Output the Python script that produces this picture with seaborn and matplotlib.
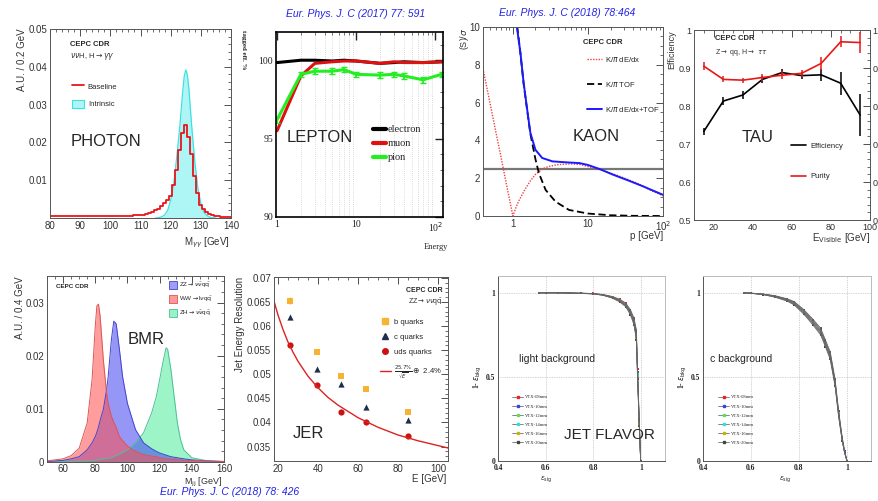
"""CEPC CDR performance overview: eight panels recreated with seaborn/matplotlib."""

import matplotlib
matplotlib.use("Agg")
import numpy as np
import matplotlib.pyplot as plt
import matplotlib.ticker as mticker
from matplotlib.lines import Line2D
from matplotlib.patches import Patch
import seaborn as sns

# ---------------- data ----------------
# PHOTON: diphoton mass (A.U. / 0.2 GeV)
photon_m = list(range(80, 141))
photon_baseline = [
    0.0004, 0.0004, 0.0005, 0.0004, 0.0004, 0.0005, 0.0004, 0.0004, 0.0005, 0.0004,
    0.0005, 0.0004, 0.0005, 0.0005, 0.0004, 0.0005, 0.0004, 0.0005, 0.0005, 0.0005,
    0.0005, 0.0004, 0.0005, 0.0005, 0.0005, 0.0006, 0.0006, 0.0006, 0.0007, 0.0008,
    0.0008, 0.0009, 0.0011, 0.0013, 0.0016, 0.0020, 0.0025, 0.0031, 0.0040, 0.0047,
    0.0058, 0.0088, 0.0127, 0.0180, 0.0224, 0.0245, 0.0215, 0.0170, 0.0110, 0.0065,
    0.0034, 0.0024, 0.0016, 0.0011, 0.0008, 0.0005, 0.0004, 0.0003, 0.0003, 0.0002, 0.0002]
photon_intr_m = [115, 116, 117, 118, 119, 120, 121, 122, 123, 124, 124.5, 125, 125.5,
                 126, 127, 128, 129, 130, 131, 132, 133, 134, 135]
photon_intrinsic = [0.0, 0.0001, 0.0003, 0.0008, 0.0020, 0.0047, 0.0090, 0.0160, 0.0240,
                    0.0335, 0.0375, 0.0392, 0.0380, 0.0345, 0.0240, 0.0150, 0.0080, 0.0038,
                    0.0016, 0.0007, 0.0002, 0.0001, 0.0]

# LEPTON: tagging efficiency (%) vs energy
lep_e = [1, 2, 3, 5, 7, 10, 20, 30, 40, 70, 120]
lep_electron = [99.85, 100.0, 100.0, 99.95, 100.0, 99.95, 99.8, 99.85, 99.9, 99.85, 99.9]
lep_muon = [95.5, 99.0, 99.8, 99.9, 99.95, 99.95, 99.8, 99.9, 99.85, 99.85, 99.9]
lep_pion = [96.2, 99.1, 99.3, 99.3, 99.4, 99.1, 99.05, 99.1, 99.0, 98.75, 99.1]

# KAON: K/pi separation power vs momentum
kaon_dedx_p = [0.4, 0.5, 0.6, 0.7, 0.8, 0.9, 1.0, 1.1, 1.2, 1.4, 1.7, 2.0, 2.5, 3, 4, 6, 8,
               10, 15, 25, 45, 70, 100]
kaon_dedx = [7.8, 5.9, 4.35, 3.05, 1.9, 0.9, 0.0, 0.45, 0.8, 1.3, 1.85, 2.2, 2.5, 2.62, 2.72,
             2.76, 2.72, 2.62, 2.44, 2.14, 1.74, 1.34, 1.07]
kaon_tof_p = [1.1, 1.26, 1.39, 1.55, 1.71, 2.0, 2.22, 2.73, 3.7, 5.6, 10, 20, 40, 100]
kaon_tof = [10.6, 8.6, 7.0, 5.6, 4.35, 3.0, 2.27, 1.38, 0.76, 0.32, 0.13, 0.04, 0.01, 0.0]
kaon_comb_p = [1.1, 1.13, 1.26, 1.39, 1.55, 1.71, 2.0, 2.46, 3.37, 5.1, 7.7, 10, 14.4, 21.8,
               33, 55, 100]
kaon_comb = [10.6, 10.0, 8.65, 7.06, 5.64, 4.4, 3.5, 3.07, 2.89, 2.84, 2.8, 2.7, 2.48, 2.18,
             1.91, 1.56, 1.12]

# TAU: efficiency and purity vs visible energy
tau_e = [15, 25, 35, 45, 55, 65, 75, 85, 95]
tau_eff = [0.733, 0.813, 0.829, 0.870, 0.888, 0.880, 0.882, 0.860, 0.776]
tau_eff_err = [0.010, 0.010, 0.010, 0.010, 0.010, 0.010, 0.015, 0.030, 0.056]
tau_pur = [0.905, 0.870, 0.868, 0.875, 0.881, 0.886, 0.912, 0.969, 0.967]
tau_pur_err = [0.010, 0.008, 0.007, 0.009, 0.010, 0.010, 0.018, 0.015, 0.028]

# BMR: dijet mass distributions (A.U. / 0.4 GeV)
bmr_m = [50, 55, 60, 65, 70, 75, 78, 80, 81, 82, 83, 85, 87, 88, 90, 91.5, 93, 95, 97, 100,
         105, 110, 115, 118, 120, 122, 124, 125, 127, 129, 131, 133, 135, 140, 150, 160]
bmr_ww = [0.0002, 0.0004, 0.0006, 0.0012, 0.0026, 0.0074, 0.0155, 0.0256, 0.0294, 0.0297,
          0.0275, 0.0193, 0.0130, 0.0110, 0.0086, 0.0075, 0.0065, 0.0048, 0.0040, 0.0030,
          0.0020, 0.0014, 0.0011, 0.0010, 0.0008, 0.0007, 0.0006, 0.0006, 0.0005, 0.0005,
          0.0004, 0.0004, 0.0003, 0.0003, 0.0002, 0.0001]
bmr_zz = [0.0001, 0.0002, 0.0003, 0.0006, 0.0010, 0.0023, 0.0036, 0.0048, 0.0056, 0.0066,
          0.0078, 0.0099, 0.0135, 0.0160, 0.0230, 0.0265, 0.0260, 0.0212, 0.0160, 0.0110,
          0.0061, 0.0036, 0.0025, 0.0020, 0.0017, 0.0015, 0.0013, 0.0012, 0.0010, 0.0009,
          0.0008, 0.0007, 0.0006, 0.0004, 0.0002, 0.0001]
bmr_zh = [0.0, 0.0, 0.0001, 0.0001, 0.0002, 0.0002, 0.0003, 0.0003, 0.0004, 0.0004, 0.0005,
          0.0006, 0.0007, 0.0007, 0.0008, 0.0010, 0.0012, 0.0015, 0.0018, 0.0023, 0.0036,
          0.0055, 0.0092, 0.0124, 0.0155, 0.0187, 0.0215, 0.0212, 0.0174, 0.0124, 0.0074,
          0.0042, 0.0023, 0.0008, 0.0002, 0.0]

# JER: jet energy resolution vs jet energy
jer_e = [26, 39.5, 51.5, 64, 85]
jer_b = [0.0653, 0.0547, 0.0497, 0.0469, 0.0422]
jer_b_err = [0.0007, 0.0003, 0.0003, 0.0003, 0.0003]
jer_c = [0.0618, 0.0512, 0.0480, 0.0433, 0.0406]
jer_uds = [0.0561, 0.0478, 0.0422, 0.0401, 0.0372]
jer_fit_e = [18, 20, 22.5, 25, 27.5, 30, 35, 40, 45, 50, 60, 70, 80, 90, 100, 105]
jer_fit = [0.0652, 0.0623, 0.0593, 0.0567, 0.0546, 0.0527, 0.0496, 0.0472, 0.0452, 0.0436,
           0.0410, 0.0390, 0.0374, 0.0362, 0.0352, 0.0347]

# JET FLAVOR: 1 - bkg efficiency vs signal efficiency, six VTX layouts
vtx_labels = ["VTX-08mm", "VTX-10mm", "VTX-12mm", "VTX-14mm", "VTX-16mm", "VTX-20mm"]
light_eff = [0.57, 0.60, 0.65, 0.70, 0.75, 0.80, 0.84, 0.88, 0.91, 0.935, 0.955, 0.97, 0.98,
             0.985, 0.992, 0.998]
light_rej = [
    [1.0, 1.0, 1.0, 0.999, 0.998, 0.996, 0.990, 0.978, 0.962, 0.940, 0.900, 0.850, 0.780, 0.55, 0.25, 0.0],
    [1.0, 1.0, 1.0, 0.999, 0.998, 0.995, 0.989, 0.976, 0.958, 0.935, 0.893, 0.840, 0.765, 0.53, 0.24, 0.0],
    [1.0, 1.0, 1.0, 0.999, 0.997, 0.995, 0.988, 0.974, 0.955, 0.930, 0.887, 0.832, 0.750, 0.52, 0.23, 0.0],
    [1.0, 1.0, 1.0, 0.999, 0.997, 0.994, 0.987, 0.972, 0.952, 0.926, 0.881, 0.825, 0.740, 0.51, 0.22, 0.0],
    [1.0, 1.0, 1.0, 0.998, 0.997, 0.994, 0.986, 0.970, 0.949, 0.922, 0.876, 0.818, 0.730, 0.50, 0.22, 0.0],
    [1.0, 1.0, 1.0, 0.998, 0.996, 0.993, 0.985, 0.968, 0.946, 0.918, 0.870, 0.810, 0.720, 0.49, 0.21, 0.0],
]
c_eff = [0.57, 0.60, 0.65, 0.70, 0.75, 0.78, 0.82, 0.86, 0.89, 0.91, 0.93, 0.95, 0.965, 0.98,
         0.99, 1.0]
c_rej = [
    [1.0, 0.998, 0.993, 0.983, 0.965, 0.948, 0.900, 0.840, 0.790, 0.720, 0.650, 0.490, 0.300, 0.140, 0.06, 0.0],
    [1.0, 0.998, 0.992, 0.981, 0.962, 0.944, 0.895, 0.833, 0.782, 0.712, 0.640, 0.480, 0.292, 0.135, 0.06, 0.0],
    [1.0, 0.998, 0.992, 0.980, 0.960, 0.940, 0.890, 0.826, 0.774, 0.704, 0.630, 0.470, 0.285, 0.130, 0.05, 0.0],
    [1.0, 0.997, 0.991, 0.978, 0.957, 0.936, 0.884, 0.820, 0.766, 0.696, 0.620, 0.462, 0.278, 0.126, 0.05, 0.0],
    [1.0, 0.997, 0.990, 0.976, 0.954, 0.932, 0.879, 0.813, 0.758, 0.688, 0.612, 0.455, 0.272, 0.122, 0.05, 0.0],
    [1.0, 0.997, 0.989, 0.974, 0.951, 0.928, 0.873, 0.806, 0.750, 0.680, 0.605, 0.448, 0.265, 0.118, 0.05, 0.0],
]
vtx_colors = ["#ee2222", "#3344ee", "#66dd55", "#33dddd", "#c8b400", "#444444"]

# ---------------- style ----------------
sns.set_style("white")
plt.rcParams["font.family"] = ["Liberation Sans", "DejaVu Sans"]
plt.rcParams["mathtext.fontset"] = "dejavusans"

W, H = 879, 501
fig = plt.figure(figsize=(W / 100, H / 100), dpi=100)
fig.patch.set_facecolor("white")


def box(l, t, r, b):
    return [l / W, 1 - b / H, (r - l) / W, (b - t) / H]


def ftext(x, y, s, **kw):
    kw.setdefault("va", "center")
    return fig.text(x / W, 1 - y / H, s, **kw)


def root_style(ax, size=7, color="#333333"):
    ax.tick_params(which="both", direction="in", top=True, right=True,
                   labelsize=size, colors=color, pad=2)
    ax.tick_params(which="major", length=5, width=0.6)
    ax.tick_params(which="minor", length=2.5, width=0.5)
    for s in ax.spines.values():
        s.set_linewidth(0.7)
        s.set_color("#555555")
    ax.set_xlabel("")
    ax.set_ylabel("")


SANS = ["Liberation Sans", "DejaVu Sans"]
SERIF = ["Liberation Serif", "DejaVu Serif"]
BIG = 12

# ---------------- PHOTON ----------------
ax1 = fig.add_axes(box(50, 29, 231, 218))
ax1.fill_between(photon_intr_m, photon_intrinsic, color="#aef6f6", lw=0)
sns.lineplot(x=photon_intr_m, y=photon_intrinsic, ax=ax1, color="#40e0e0", lw=0.9)
sns.lineplot(x=photon_m, y=photon_baseline, ax=ax1, color="#e8161b", lw=1.3,
             drawstyle="steps-mid")
ax1.set_xlim(80, 140)
ax1.set_ylim(0, 0.05)
ax1.set_xticks(range(80, 141, 10))
ax1.set_yticks([0.01, 0.02, 0.03, 0.04, 0.05])
ax1.xaxis.set_minor_locator(mticker.MultipleLocator(2))
ax1.yaxis.set_minor_locator(mticker.MultipleLocator(0.002))
root_style(ax1)
ax1.legend(handles=[Line2D([], [], color="#e8161b", lw=1.3),
                    Patch(facecolor="#aef6f6", edgecolor="#40e0e0", lw=0.8)],
           labels=["Baseline", "Intrinsic"], loc="upper left",
           bbox_to_anchor=((68 - 50) / 181, (218 - 78) / 189), frameon=False,
           fontsize=5.5, handlelength=1.6, handleheight=1.3, labelspacing=1.2,
           borderpad=0, handletextpad=0.5)
ftext(70, 44, "CEPC CDR", fontsize=5.5, fontweight="bold")
ftext(70, 57, r"$\nu\nu$H, H$\rightarrow\gamma\gamma$", fontsize=5.5, color="#333333")
ftext(71, 141, "PHOTON", fontsize=BIG)
ftext(22, 28, "A.U. / 0.2 GeV", fontsize=7, rotation=90, va="top", ha="center",
      color="#333333")
ftext(230, 243, r"M$_{\gamma\gamma}$ [GeV]", fontsize=7, ha="right", color="#333333")

# ---------------- LEPTON ----------------
ax2 = fig.add_axes(box(276, 32, 443, 217))
ax2.set_xscale("log")
for xv in [2, 3, 4, 5, 6, 7, 8, 9, 20, 30, 40, 50, 60, 70, 80, 90]:
    ax2.axvline(xv, color="#bbbbbb", lw=0.5, ls=(0, (1, 2)))
sns.lineplot(x=lep_e, y=lep_electron, ax=ax2, color="black", lw=2.2)
sns.lineplot(x=lep_e, y=lep_muon, ax=ax2, color="#e01010", lw=2.2)
sns.lineplot(x=lep_e, y=lep_pion, ax=ax2, color="#22ee22", lw=2.2)
ax2.errorbar(lep_e, lep_pion, yerr=0.18, fmt="none", ecolor="#22ee22", elinewidth=1.3,
             capsize=2)
ax2.set_xlim(0.97, 125)
ax2.set_ylim(90, 101.8)
ax2.set_yticks([90, 95, 100])
ax2.yaxis.set_minor_locator(mticker.MultipleLocator(1))
ax2.xaxis.set_major_formatter(mticker.FuncFormatter(
    lambda v, p: {1: "1", 10: "10", 100: r"10$^{2}$"}.get(int(round(v)), "")))
root_style(ax2, size=7, color="#222222")
for lab in ax2.get_xticklabels() + ax2.get_yticklabels():
    lab.set_family(SERIF)
ax2.tick_params(which="major", length=6, width=1.0)
for s in ax2.spines.values():
    s.set_linewidth(1.2)
    s.set_color("black")
ax2.legend(handles=[Line2D([], [], color=c, lw=3) for c in ["black", "#e01010", "#22ee22"]],
           labels=["electron", "muon", "pion"], loc="upper left",
           bbox_to_anchor=((368 - 276) / 167, (217 - 120) / 185), frameon=False,
           prop={"family": SERIF, "size": 7.5}, handlelength=1.2, labelspacing=0.45,
           borderpad=0, handletextpad=0.2)
ftext(287, 137, "LEPTON", fontsize=BIG)
ftext(244, 30, "tagged eff. %", fontsize=5, rotation=270, va="top", ha="center",
      family=SERIF, fontweight="bold")
ftext(436, 247, "Energy", fontsize=6, ha="center", family=SERIF)

# ---------------- KAON ----------------
ax3 = fig.add_axes(box(483, 27, 663, 216))
ax3.set_xscale("log")
ax3.axhline(2.5, color="#777777", lw=1.6)
sns.lineplot(x=kaon_dedx_p, y=kaon_dedx, ax=ax3, color="#f04040", lw=1.0, ls=(0, (1, 1)))
sns.lineplot(x=kaon_tof_p, y=kaon_tof, ax=ax3, color="black", lw=1.3, ls=(0, (4, 2)))
sns.lineplot(x=kaon_comb_p, y=kaon_comb, ax=ax3, color="#1a1aff", lw=1.4)
ax3.set_xlim(0.4, 100)
ax3.set_ylim(0, 10)
ax3.set_yticks([0, 2, 4, 6, 8, 10])
ax3.set_yticklabels(["0", "2", "4", "6", "8", "10"])
ax3.yaxis.set_minor_locator(mticker.MultipleLocator(0.5))
ax3.xaxis.set_major_formatter(mticker.FuncFormatter(
    lambda v, p: {1: "1", 10: "10", 100: r"10$^{2}$"}.get(int(round(v)), "")))
root_style(ax3)
ax3.legend(handles=[Line2D([], [], color="#f04040", lw=1.0, ls=(0, (1, 1))),
                    Line2D([], [], color="black", lw=1.3, ls=(0, (4, 2))),
                    Line2D([], [], color="#1a1aff", lw=1.4)],
           labels=[r"K/$\pi$ dE/dx", r"K/$\pi$ TOF", r"K/$\pi$ dE/dx+TOF"], loc="upper left",
           bbox_to_anchor=((583 - 483) / 180, (216 - 51) / 189), frameon=False,
           fontsize=5.5, handlelength=2.0, labelspacing=2.1, borderpad=0,
           handletextpad=0.4)
ftext(583, 42, "CEPC CDR", fontsize=5.5, fontweight="bold")
ftext(573, 136, "KAON", fontsize=BIG)
ftext(465, 28, r"(S)/$\sigma$", fontsize=6.5, rotation=90, va="top", ha="center",
      color="#333333")
ftext(663, 236, "p [GeV]", fontsize=7, ha="right", color="#333333")

# ---------------- TAU ----------------
ax4 = fig.add_axes(box(694, 30, 870, 220))
sns.lineplot(x=tau_e, y=tau_eff, ax=ax4, color="black", lw=1.2)
ax4.errorbar(tau_e, tau_eff, yerr=tau_eff_err, fmt="none", ecolor="black", elinewidth=1.1)
sns.lineplot(x=tau_e, y=tau_pur, ax=ax4, color="#e81818", lw=1.2)
ax4.errorbar(tau_e, tau_pur, yerr=tau_pur_err, fmt="none", ecolor="#e81818", elinewidth=1.1)
ax4.set_xlim(10, 100)
ax4.set_ylim(0.5, 1.0)
ax4.set_xticks([20, 40, 60, 80, 100])
ax4.set_yticks([0.5, 0.6, 0.7, 0.8, 0.9, 1.0])
ax4.set_yticklabels(["0.5", "0.6", "0.7", "0.8", "0.9", "1"])
ax4.xaxis.set_minor_locator(mticker.MultipleLocator(5))
ax4.yaxis.set_minor_locator(mticker.MultipleLocator(0.02))
root_style(ax4, size=6.5)
ax4.tick_params(labelright=True)
ax4.legend(handles=[Line2D([], [], color="black", lw=1.2),
                    Line2D([], [], color="#e81818", lw=1.2)],
           labels=["Efficiency", "Purity"], loc="upper left",
           bbox_to_anchor=((787 - 694) / 176, (220 - 139) / 190), frameon=False,
           fontsize=5.5, handlelength=2.0, labelspacing=3.0, borderpad=0,
           handletextpad=0.5)
ftext(715, 38, "CEPC CDR", fontsize=5.5, fontweight="bold")
ftext(715, 52, r"Z$\rightarrow$ qq, H$\rightarrow$ $\tau\tau$", fontsize=5, color="#333333")
ftext(742, 137, "TAU", fontsize=BIG)
ftext(672, 30, "Efficiency", fontsize=6.5, rotation=90, va="top", ha="center",
      color="#333333")
ftext(870, 238, r"E$_{\rm Visible}$ [GeV]", fontsize=7, ha="right", color="#333333")

# ---------------- BMR ----------------
ax5 = fig.add_axes(box(47, 276, 224, 462))
bmr_style = [(bmr_zh, (0.30, 0.92, 0.60), "#4cbf95"),
             (bmr_zz, (0.25, 0.25, 0.95), "#4444cc"),
             (bmr_ww, (1.00, 0.30, 0.30), "#dd5555")]
for vals, face, edge in bmr_style:
    ax5.fill_between(bmr_m, vals, color=face, alpha=0.55, lw=0)
    sns.lineplot(x=bmr_m, y=vals, ax=ax5, color=edge, lw=0.7)
ax5.set_xlim(50, 160)
ax5.set_ylim(0, 0.035)
ax5.set_xticks(range(60, 161, 20))
ax5.set_yticks([0, 0.01, 0.02, 0.03])
ax5.set_yticklabels(["0", "0.01", "0.02", "0.03"])
ax5.xaxis.set_minor_locator(mticker.MultipleLocator(5))
ax5.yaxis.set_minor_locator(mticker.MultipleLocator(0.002))
root_style(ax5)
ax5.tick_params(axis="x", pad=1.5)
ax5.legend(handles=[Patch(facecolor=(0.62, 0.62, 0.97), edgecolor="#4444cc", lw=0.6),
                    Patch(facecolor=(1.0, 0.6, 0.6), edgecolor="#dd5555", lw=0.6),
                    Patch(facecolor=(0.6, 0.95, 0.78), edgecolor="#4cbf95", lw=0.6)],
           labels=[r"ZZ$\rightarrow\nu\bar{\nu}$q$\bar{\rm q}$",
                   r"WW$\rightarrow$l$\nu$q$\bar{\rm q}$",
                   r"ZH$\rightarrow\nu\bar{\nu}$q$\bar{\rm q}$"],
           loc="upper left", bbox_to_anchor=((166 - 47) / 177, (462 - 278) / 186),
           frameon=False, fontsize=4.5, handlelength=1.2, handleheight=1.6,
           labelspacing=0.75, borderpad=0, handletextpad=0.4)
ftext(56, 287, "CEPC CDR", fontsize=4.5, fontweight="bold")
ftext(128, 340, "BMR", fontsize=BIG)
ftext(20, 276, "A.U. / 0.4 GeV", fontsize=7, rotation=90, va="top", ha="center",
      color="#333333")
ftext(222, 482, r"M$_{\rm jj}$ [GeV]", fontsize=6.5, ha="right", color="#333333")

# ---------------- JER ----------------
ax6 = fig.add_axes(box(274, 277, 448, 461))
sns.lineplot(x=jer_fit_e, y=jer_fit, ax=ax6, color="#dd2222", lw=1.0)
ax6.errorbar(jer_e, jer_b, yerr=jer_b_err, fmt="none", ecolor="#f5b030", elinewidth=1.0)
sns.scatterplot(x=jer_e, y=jer_b, ax=ax6, color="#f8b431", marker="s", s=18, lw=0)
sns.scatterplot(x=jer_e, y=jer_c, ax=ax6, color="#1e2f4e", marker="^", s=20, lw=0)
sns.scatterplot(x=jer_e, y=jer_uds, ax=ax6, color="#cc1111", marker="o", s=20, lw=0)
ax6.set_xlim(18, 105)
ax6.set_ylim(0.032, 0.0702)
ax6.set_xticks([20, 40, 60, 80, 100])
ax6.set_yticks([0.035, 0.04, 0.045, 0.05, 0.055, 0.06, 0.065, 0.07])
ax6.set_yticklabels(["0.035", "0.04", "0.045", "0.05", "0.055", "0.06", "0.065", "0.07"])
ax6.xaxis.set_minor_locator(mticker.MultipleLocator(5))
ax6.yaxis.set_minor_locator(mticker.MultipleLocator(0.001))
root_style(ax6)
ax6.legend(handles=[Line2D([], [], color="#f8b431", marker="s", ls="none", ms=4),
                    Line2D([], [], color="#1e2f4e", marker="^", ls="none", ms=4),
                    Line2D([], [], color="#cc1111", marker="o", ls="none", ms=4),
                    Line2D([], [], color="#dd2222", lw=1.0)],
           labels=["b quarks", "c quarks", "uds quarks",
                   r"$\frac{25.7\%}{\sqrt{E}}\oplus$ 2.4%"],
           loc="upper left", bbox_to_anchor=((376 - 274) / 174, (461 - 315) / 184),
           frameon=False, fontsize=5.5, handlelength=1.4, labelspacing=1.0, borderpad=0,
           handletextpad=0.5)
ftext(443, 290, "CEPC CDR", fontsize=5, fontweight="bold", ha="right")
ftext(443, 302, r"ZZ$\rightarrow\nu\nu$q$\bar{\rm q}$", fontsize=5, ha="right",
      color="#333333")
ftext(293, 434, "JER", fontsize=BIG)
ftext(240, 277, "Jet Energy Resolution", fontsize=7, rotation=90, va="top", ha="center",
      color="#333333")
ftext(446, 479, "E [GeV]", fontsize=7, ha="right", color="#333333")


# ---------------- JET FLAVOR ----------------
def flavor_panel(rect, eff, rej_sets, leg_x):
    ax = fig.add_axes(box(*rect))
    for xv in [0.6, 0.8, 1.0]:
        ax.axvline(xv, color="#aaaaaa", lw=0.5, ls=(0, (1, 1.5)))
    for yv in [0.5, 1.0]:
        ax.axhline(yv, color="#aaaaaa", lw=0.5, ls=(0, (1, 1.5)))
    for rej, col in zip(rej_sets, vtx_colors):
        sns.lineplot(x=eff, y=rej, ax=ax, color="#666666", lw=0.6, sort=False)
    for rej, col in zip(rej_sets, vtx_colors):
        sns.scatterplot(x=eff, y=rej, ax=ax, color=col, s=4, lw=0, marker="s")
    ax.set_xlim(0.4, 1.1)
    ax.set_ylim(0, 1.1)
    ax.set_xticks([0.4, 0.6, 0.8, 1.0])
    ax.set_xticklabels(["0.4", "0.6", "0.8", "1"])
    ax.set_yticks([0, 0.5, 1.0])
    ax.set_yticklabels(["0", "0.5", "1"])
    ax.xaxis.set_minor_locator(mticker.MultipleLocator(0.05))
    ax.yaxis.set_minor_locator(mticker.MultipleLocator(0.1))
    root_style(ax, size=5.5, color="#222222")
    ax.tick_params(top=False, right=False, which="both")
    for lab in ax.get_xticklabels() + ax.get_yticklabels():
        lab.set_family(SERIF)
        lab.set_fontweight("bold")
    ax.spines["top"].set_color("#bbbbbb")
    ax.spines["right"].set_color("#bbbbbb")
    ax.legend(handles=[Line2D([], [], color="#555555", lw=0.5, marker="s", ms=1.5,
                              markerfacecolor=c, markeredgecolor=c) for c in vtx_colors],
              labels=vtx_labels, loc="upper left",
              bbox_to_anchor=((leg_x - rect[0]) / (rect[2] - rect[0]),
                              (rect[3] - 393) / (rect[3] - rect[1])),
              frameon=False, prop={"family": SERIF, "size": 3.3}, handlelength=2.4,
              labelspacing=1.05, borderpad=0, handletextpad=0.3)
    return ax


ax7 = flavor_panel((498, 276, 665, 461), light_eff, light_rej, 510)
ax8 = flavor_panel((703, 276, 871, 461), c_eff, c_rej, 716)
ftext(519, 359, "light background", fontsize=7.5)
ftext(564, 435, "JET FLAVOR", fontsize=11)
ftext(710, 359, "c background", fontsize=7.5)
for lx, xl in [(478, 546), (683, 785)]:
    ftext(lx, 377, r"1- $\epsilon_{\rm bkg}$", fontsize=5.5, rotation=90, va="center",
          ha="center", fontweight="bold", family=SERIF)
    ftext(xl, 480, r"$\epsilon_{\rm sig}$", fontsize=5, ha="center", family=SERIF)

# ---------------- journal references ----------------
for x, y, s in [(356, 14, "Eur. Phys. J. C (2017) 77: 591"),
                (567, 13, "Eur. Phys. J. C (2018) 78:464"),
                (230, 492, "Eur. Phys. J. C (2018) 78: 426")]:
    ftext(x, y, s, fontsize=7.5, style="italic", color="#2323e6", ha="center")

fig.savefig("out.png", dpi=100, facecolor="white")
print("Saved: out.png")
